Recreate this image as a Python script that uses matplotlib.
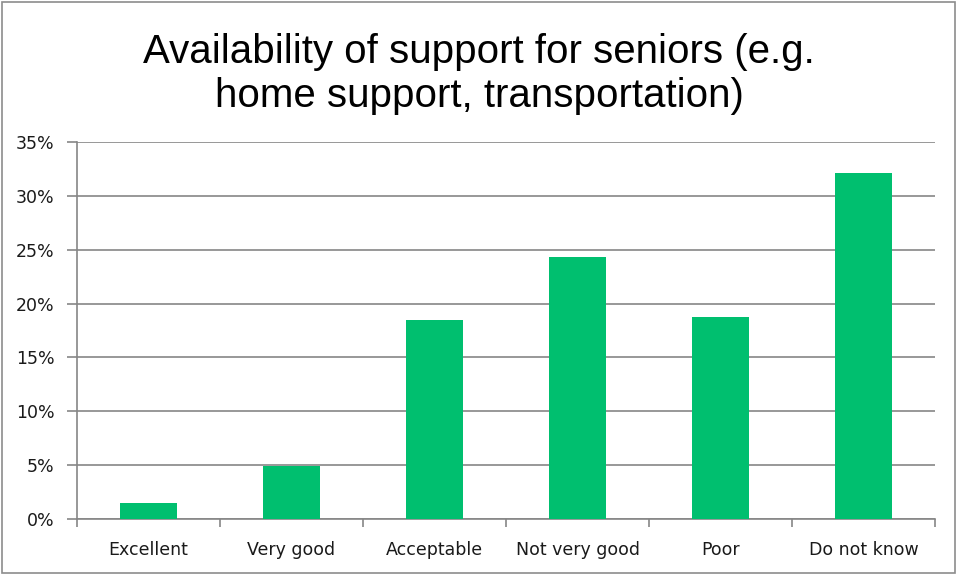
import numpy as np
import matplotlib
matplotlib.use('Agg')
import matplotlib.pyplot as plt
from matplotlib.patches import Rectangle
from matplotlib.ticker import FuncFormatter

categories = ['Excellent', 'Very good', 'Acceptable', 'Not very good', 'Poor', 'Do not know']
values = [1.5, 4.9, 18.5, 24.3, 18.8, 32.1]

fig = plt.figure(figsize=(9.58, 5.75), dpi=100)
ax = fig.add_axes([0.0804, 0.0974, 0.8956, 0.6556])

x = np.arange(len(categories))
ax.bar(x, values, width=0.4, color='#00BF6F', zorder=3)

grey = '#868686'
ax.set_ylim(0, 35)
ax.set_xlim(-0.5, len(categories) - 0.5)
ax.set_yticks(np.arange(0, 36, 5))
ax.yaxis.set_major_formatter(FuncFormatter(lambda v, p: f'{v:.0f}%'))
ax.yaxis.grid(True, color=grey, linewidth=1.2, zorder=0)
ax.set_xticks(x)
ax.set_xticklabels(categories)
ax.set_xticks(np.arange(-0.5, len(categories)), minor=True)
ax.tick_params(axis='x', which='major', length=0, pad=16, labelsize=12.5, colors='#1a1a1a')
ax.tick_params(axis='x', which='minor', length=6, color=grey, width=1.2)
ax.tick_params(axis='y', length=7, color=grey, width=1.2, labelsize=12.5, pad=9,
               labelcolor='#1a1a1a')
for s in ['top', 'right']:
    ax.spines[s].set_visible(False)
for s in ['left', 'bottom']:
    ax.spines[s].set_color(grey)
    ax.spines[s].set_linewidth(1.2)

fig.text(0.5, 0.872, 'Availability of support for seniors (e.g.\nhome support, transportation)',
         ha='center', va='center', fontsize=29, family='Liberation Sans',
         linespacing=1.2)

fig.patches.append(Rectangle((0.002, 0.003), 0.995, 0.993, transform=fig.transFigure,
                             fill=False, edgecolor='#8c8c8c', linewidth=1.2))

fig.savefig('out.png', dpi=100)
